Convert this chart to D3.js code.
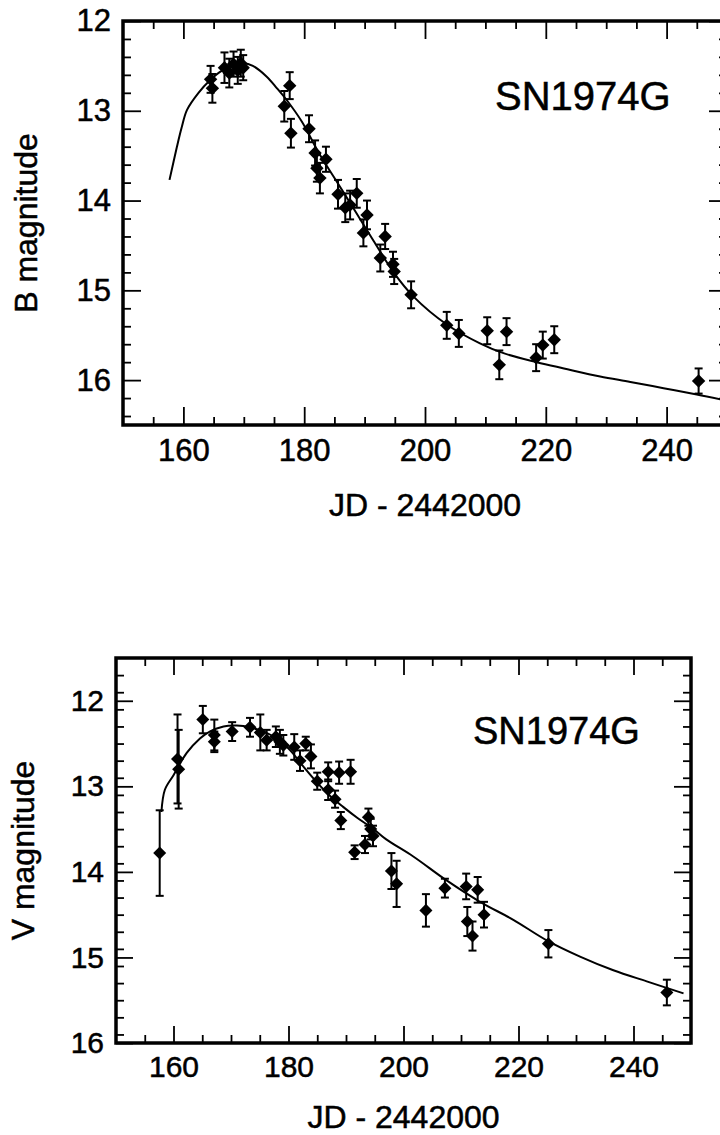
<!DOCTYPE html>
<html>
<head>
<meta charset="utf-8">
<script src="https://cdn.jsdelivr.net/npm/d3@7"></script>
<style>
  html, body { margin: 0; padding: 0; background: #fff; }
  svg { display: block; }
  text { font-family: "Liberation Sans", Arial, Helvetica, sans-serif; fill: #000; stroke: #000; stroke-width: 0.5px; }
</style>
</head>
<body>
<svg id="chart" width="720" height="1135"></svg>
<script>
// tick values shared by both panels
const xMajorTicks = [160, 180, 200, 220, 240];
const yMajorTicks = [12, 13, 14, 15, 16];
const xTitle = "JD - 2442000";
const label = "SN1974G";

// B band photometry: JD - 2442000, magnitude, error
const bJD  = [164.5, 164.8, 166.8, 167.6, 168.3, 169.0, 169.5, 169.9, 176.7, 177.6, 177.8, 180.8, 181.8, 182.1, 182.6, 183.6, 185.6, 186.8, 187.6, 188.7, 189.8, 190.4, 192.6, 193.4, 194.7, 194.9, 197.7, 203.6, 205.6, 210.3, 212.3, 213.5, 218.4, 219.5, 221.4, 245.3];
const bMag = [12.65, 12.75, 12.52, 12.58, 12.48, 12.55, 12.47, 12.52, 12.95, 12.72, 13.25, 13.20, 13.47, 13.64, 13.75, 13.54, 13.93, 14.08, 14.05, 13.92, 14.36, 14.16, 14.64, 14.40, 14.71, 14.79, 15.05, 15.39, 15.48, 15.45, 15.83, 15.46, 15.75, 15.61, 15.55, 16.01];
const bErr = [0.15, 0.16, 0.17, 0.16, 0.14, 0.15, 0.15, 0.14, 0.17, 0.15, 0.16, 0.15, 0.14, 0.15, 0.17, 0.14, 0.16, 0.16, 0.16, 0.16, 0.15, 0.16, 0.15, 0.14, 0.14, 0.14, 0.15, 0.15, 0.15, 0.15, 0.16, 0.15, 0.15, 0.15, 0.15, 0.14];
// B template curve
const bCurveJD  = [157.7, 158.9, 159.7, 160.6, 162.5, 164.4, 166.0, 168.0, 170.0, 171.5, 173.8, 175.5, 177.1, 179.6, 182.6, 185.4, 188.1, 191.5, 194.8, 198.1, 203.6, 209.1, 213.0, 218.5, 223.0, 229.0, 234.0, 239.5, 245.0, 250.0];
const bCurveMag = [13.77, 13.41, 13.19, 12.99, 12.80, 12.66, 12.57, 12.50, 12.47, 12.50, 12.62, 12.75, 12.88, 13.12, 13.49, 13.79, 14.08, 14.45, 14.80, 15.07, 15.38, 15.59, 15.70, 15.80, 15.87, 15.96, 16.02, 16.09, 16.16, 16.23];

// V band photometry
const vJD  = [157.6, 160.7, 160.9, 165.1, 167.1, 167.1, 170.2, 173.3, 175.1, 176.2, 177.8, 178.5, 179.1, 181.0, 182.0, 183.0, 183.9, 185.0, 186.9, 186.9, 188.1, 188.8, 189.1, 190.8, 191.5, 193.3, 193.9, 194.3, 194.7, 197.9, 198.8, 203.9, 207.2, 210.9, 211.1, 212.0, 212.9, 214.0, 225.2, 245.8];
const vMag = [13.78, 12.68, 12.80, 12.22, 12.40, 12.48, 12.36, 12.31, 12.37, 12.46, 12.42, 12.48, 12.52, 12.54, 12.70, 12.50, 12.65, 12.94, 12.83, 13.04, 13.15, 12.84, 13.40, 12.83, 13.77, 13.68, 13.36, 13.50, 13.58, 13.99, 14.14, 14.45, 14.19, 14.17, 14.58, 14.75, 14.21, 14.50, 14.84, 15.41];
const vErr = [0.50, 0.52, 0.46, 0.16, 0.18, 0.12, 0.11, 0.11, 0.21, 0.12, 0.12, 0.14, 0.12, 0.15, 0.12, 0.08, 0.14, 0.10, 0.11, 0.12, 0.10, 0.13, 0.10, 0.14, 0.08, 0.10, 0.10, 0.12, 0.12, 0.21, 0.27, 0.19, 0.11, 0.15, 0.17, 0.17, 0.15, 0.15, 0.16, 0.15];
// V template curve
const vCurveJD  = [157.9, 158.5, 160.0, 162.3, 164.6, 166.3, 168.7, 171.0, 173.3, 175.6, 178.0, 180.3, 182.6, 184.9, 187.2, 189.5, 192.0, 194.8, 197.0, 201.7, 207.5, 213.3, 219.1, 224.9, 230.7, 236.5, 242.3, 248.7];
const vCurveMag = [13.30, 13.04, 12.87, 12.61, 12.44, 12.36, 12.30, 12.29, 12.31, 12.36, 12.44, 12.58, 12.77, 12.95, 13.11, 13.24, 13.37, 13.50, 13.62, 13.82, 14.10, 14.35, 14.56, 14.80, 14.99, 15.15, 15.28, 15.42];

const svg = d3.select("#chart");

function drawPanel(p) {
  const x = d3.scaleLinear().domain([150, 250]).range([p.left, p.right]);
  const y = d3.scaleLinear().domain(p.yDomain).range([p.top, p.bottom]);
  const g = svg.append("g");

  const xMinor = d3.range(155, 250, 5).filter(v => !xMajorTicks.includes(v));
  const yMinor = d3.range(p.yDomain[0], p.yDomain[1] + 0.001, 0.2)
    .map(v => +v.toFixed(1))
    .filter(v => !yMajorTicks.includes(v) && v > p.yDomain[0] && v < p.yDomain[1]);

  const tickStyle = sel => {
    sel.select(".domain").remove();
    sel.selectAll(".tick line").attr("stroke", "#000").attr("stroke-width", 1.8);
  };
  const labelStyle = sel => sel.selectAll("text")
    .attr("font-size", p.tickFont)
    .attr("font-family", "Liberation Sans, Arial, sans-serif");

  // bottom axis with labels
  g.append("g").attr("transform", `translate(0,${p.bottom})`)
    .call(d3.axisBottom(x).tickValues(xMajorTicks).tickSize(-p.majorLen).tickPadding(p.xPad).tickFormat(d3.format("d")))
    .call(tickStyle).call(labelStyle);
  g.append("g").attr("transform", `translate(0,${p.bottom})`)
    .call(d3.axisBottom(x).tickValues(xMinor).tickSize(-p.minorLen).tickFormat(""))
    .call(tickStyle);
  // top axis
  g.append("g").attr("transform", `translate(0,${p.top})`)
    .call(d3.axisTop(x).tickValues(xMajorTicks).tickSize(-p.majorLen).tickFormat(""))
    .call(tickStyle);
  g.append("g").attr("transform", `translate(0,${p.top})`)
    .call(d3.axisTop(x).tickValues(xMinor).tickSize(-p.minorLen).tickFormat(""))
    .call(tickStyle);
  // left axis with labels
  g.append("g").attr("transform", `translate(${p.left},0)`)
    .call(d3.axisLeft(y).tickValues(yMajorTicks).tickSize(-p.majorLen).tickPadding(p.yPad).tickFormat(d3.format("d")))
    .call(tickStyle).call(labelStyle);
  g.append("g").attr("transform", `translate(${p.left},0)`)
    .call(d3.axisLeft(y).tickValues(yMinor).tickSize(-p.minorLen).tickFormat(""))
    .call(tickStyle);
  // right axis
  g.append("g").attr("transform", `translate(${p.right},0)`)
    .call(d3.axisRight(y).tickValues(yMajorTicks).tickSize(-p.majorLen).tickFormat(""))
    .call(tickStyle);
  g.append("g").attr("transform", `translate(${p.right},0)`)
    .call(d3.axisRight(y).tickValues(yMinor).tickSize(-p.minorLen).tickFormat(""))
    .call(tickStyle);

  // frame
  g.append("rect")
    .attr("x", p.left).attr("y", p.top)
    .attr("width", p.right - p.left).attr("height", p.bottom - p.top)
    .attr("fill", "none").attr("stroke", "#000").attr("stroke-width", 3.5);

  // template curve
  const curve = p.curveJD.map((d, i) => [d, p.curveMag[i]]);
  g.append("path")
    .datum(curve)
    .attr("fill", "none").attr("stroke", "#000").attr("stroke-width", 2)
    .attr("d", d3.line().x(d => x(d[0])).y(d => y(d[1])).curve(d3.curveCatmullRom));

  // data points with error bars
  const pts = p.jd.map((d, i) => ({ jd: d, mag: p.mag[i], err: p.err[i] }));
  const eb = g.append("g").attr("stroke", "#000").attr("stroke-width", 2);
  eb.selectAll("line.bar").data(pts).join("line").attr("class", "bar")
    .attr("x1", d => x(d.jd)).attr("x2", d => x(d.jd))
    .attr("y1", d => y(d.mag - d.err)).attr("y2", d => y(d.mag + d.err));
  eb.selectAll("line.capTop").data(pts).join("line").attr("class", "capTop")
    .attr("x1", d => x(d.jd) - 4).attr("x2", d => x(d.jd) + 4)
    .attr("y1", d => y(d.mag - d.err)).attr("y2", d => y(d.mag - d.err));
  eb.selectAll("line.capBot").data(pts).join("line").attr("class", "capBot")
    .attr("x1", d => x(d.jd) - 4).attr("x2", d => x(d.jd) + 4)
    .attr("y1", d => y(d.mag + d.err)).attr("y2", d => y(d.mag + d.err));

  const diamond = d3.symbol().type(d3.symbolSquare).size(p.markSize);
  g.append("g").selectAll("path").data(pts).join("path")
    .attr("d", diamond)
    .attr("transform", d => `translate(${x(d.jd)},${y(d.mag)}) rotate(45)`)
    .attr("fill", "#000");

  // texts
  g.append("text")
    .attr("x", p.labelX).attr("y", p.labelY)
    .attr("font-size", p.labelFont)
    .text(label);
  g.append("text")
    .attr("x", (p.left + p.right) / 2).attr("y", p.xTitleY)
    .attr("text-anchor", "middle")
    .attr("font-size", p.titleFont)
    .text(xTitle);
  g.append("text")
    .attr("transform", `translate(${p.yTitleX},${(p.top + p.bottom) / 2}) rotate(-90)`)
    .attr("text-anchor", "middle")
    .attr("font-size", p.titleFont)
    .text(p.yTitle);
}

drawPanel({
  left: 123, right: 727, top: 21, bottom: 425, yDomain: [12, 16.5],
  majorLen: 18, minorLen: 8, tickFont: 31, xPad: 14, yPad: 12,
  titleFont: 32, labelFont: 40, labelX: 495, labelY: 110,
  xTitleY: 516, yTitleX: 37, yTitle: "B magnitude",
  jd: bJD, mag: bMag, err: bErr, curveJD: bCurveJD, curveMag: bCurveMag,
  markSize: 90
});

drawPanel({
  left: 116, right: 691, top: 658, bottom: 1043, yDomain: [11.5, 16],
  majorLen: 17, minorLen: 8, tickFont: 30, xPad: 13, yPad: 12,
  titleFont: 32, labelFont: 38, labelX: 473, labelY: 744,
  xTitleY: 1128, yTitleX: 34, yTitle: "V magnitude",
  jd: vJD, mag: vMag, err: vErr, curveJD: vCurveJD, curveMag: vCurveMag,
  markSize: 85
});
</script>
</body>
</html>
